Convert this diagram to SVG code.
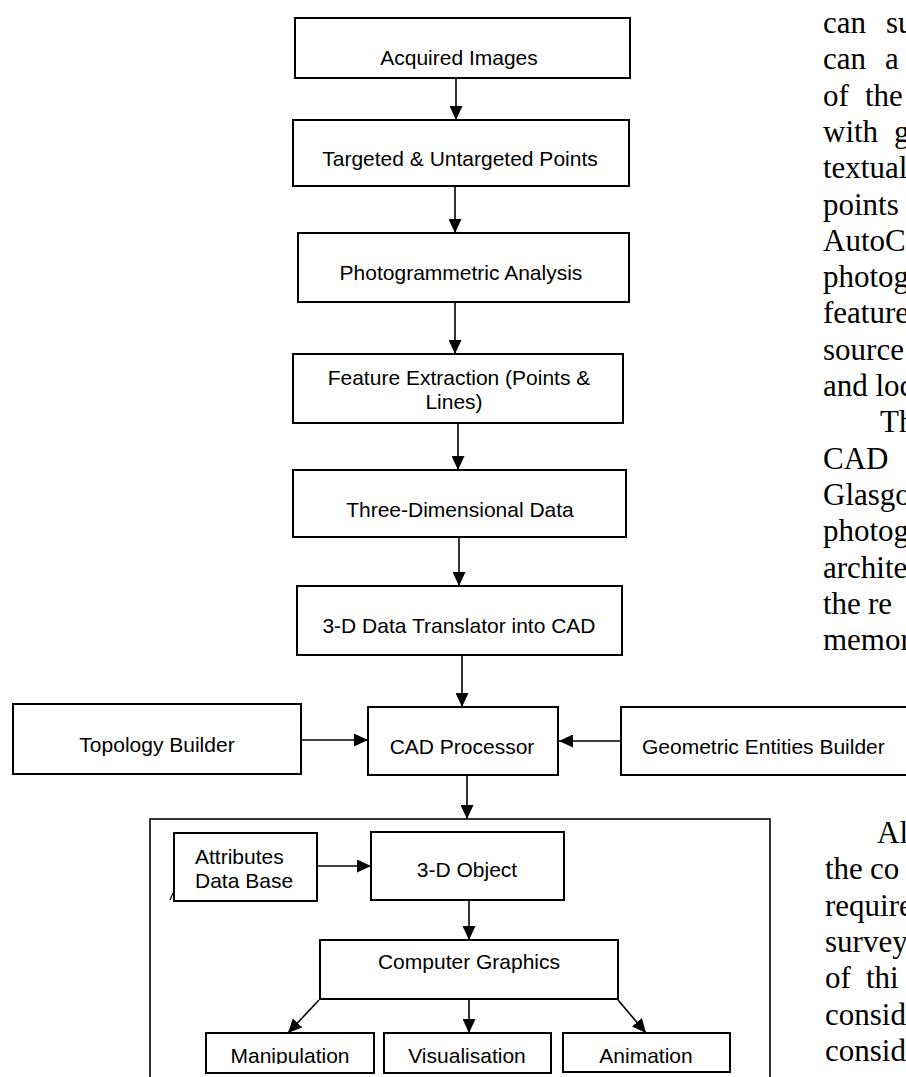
<svg xmlns="http://www.w3.org/2000/svg" width="906" height="1077" viewBox="0 0 906 1077">
<defs>
<marker id="ah" viewBox="0 0 14 13" refX="14" refY="6.5" markerWidth="14" markerHeight="13" markerUnits="userSpaceOnUse" orient="auto">
<path d="M0,0 L14,6.5 L0,13 z" fill="#000"/>
</marker>
<clipPath id="cutBottom"><rect x="0" y="0" width="906" height="1064"/></clipPath>
</defs>
<style>
.box{fill:#fff;stroke:#000;stroke-width:2}
.frame{fill:none;stroke:#000;stroke-width:1.6}
.lbl{font-family:"Liberation Sans",Arial,sans-serif;font-size:21px;fill:#000;text-anchor:middle}
.lbll{font-family:"Liberation Sans",Arial,sans-serif;font-size:21px;fill:#000}
.body{font-family:"Liberation Serif","Times New Roman",serif;font-size:31px;fill:#000}
.con{stroke:#000;stroke-width:1.6;fill:none;marker-end:url(#ah)}
</style>
<rect width="906" height="1077" fill="#fff"/>

<g id="body-text">
<text class="body" x="823" y="33">can<tspan x="886">su</tspan></text>
<text class="body" x="823" y="69.3">can<tspan x="885">a</tspan></text>
<text class="body" x="823" y="105.6">of<tspan x="865">the</tspan></text>
<text class="body" x="823" y="141.9">with<tspan x="894">g</tspan></text>
<text class="body" x="823" y="178.2">textual</text>
<text class="body" x="823" y="214.5">points</text>
<text class="body" x="823" y="250.8">AutoC</text>
<text class="body" x="823" y="287.1">photog</text>
<text class="body" x="823" y="323.4">feature</text>
<text class="body" x="823" y="359.7">source</text>
<text class="body" x="823" y="396">and loc</text>
<text class="body" x="880" y="432.3">Th</text>
<text class="body" x="823" y="468.6">CAD</text>
<text class="body" x="823" y="504.9">Glasgo</text>
<text class="body" x="823" y="541.2">photog</text>
<text class="body" x="823" y="577.5">archite</text>
<text class="body" x="823" y="613.8">the<tspan x="868">re</tspan></text>
<text class="body" x="823" y="650.1">memor</text>
<text class="body" x="877" y="843">Al</text>
<text class="body" x="825" y="879.3">the<tspan x="870">co</tspan></text>
<text class="body" x="825" y="915.6">require</text>
<text class="body" x="825" y="951.9">survey</text>
<text class="body" x="825" y="988.2">of<tspan x="866">thi</tspan></text>
<text class="body" x="825" y="1024.5">consid</text>
<text class="body" x="825" y="1060.8">consid</text>
</g>

<g id="outer-frame">
<rect class="frame" x="150" y="819" width="620" height="300"/>
</g>

<g id="connectors">
<line class="con" x1="456" y1="78" x2="456" y2="120"/>
<line class="con" x1="455" y1="186" x2="455" y2="233"/>
<line class="con" x1="455" y1="302" x2="455" y2="354"/>
<line class="con" x1="458" y1="423" x2="458" y2="470"/>
<line class="con" x1="459" y1="537" x2="459" y2="586"/>
<line class="con" x1="462" y1="655" x2="462" y2="707"/>
<line class="con" x1="302" y1="740" x2="368" y2="740"/>
<line class="con" x1="621" y1="741" x2="559" y2="741"/>
<line class="con" x1="467" y1="775" x2="467" y2="819"/>
<line class="con" x1="317" y1="866" x2="371" y2="866"/>
<line class="con" x1="469" y1="900" x2="469" y2="940"/>
<line class="con" x1="319" y1="1000" x2="288" y2="1033"/>
<line class="con" x1="469" y1="999" x2="469" y2="1033"/>
<line class="con" x1="618" y1="1000" x2="646" y2="1033"/>
</g>

<g id="n-acquired">
<rect class="box" x="295" y="18" width="335" height="60"/>
<text class="lbl" x="459" y="65">Acquired Images</text>
</g>
<g id="n-targeted">
<rect class="box" x="293" y="120" width="336" height="66"/>
<text class="lbl" x="460" y="166">Targeted &amp; Untargeted Points</text>
</g>
<g id="n-photogrammetric">
<rect class="box" x="298" y="233" width="331" height="69"/>
<text class="lbl" x="461" y="280">Photogrammetric Analysis</text>
</g>
<g id="n-feature">
<rect class="box" x="293" y="354" width="330" height="69"/>
<text class="lbl" x="459" y="385">Feature Extraction (Points &amp;</text>
<text class="lbl" x="454" y="409">Lines)</text>
</g>
<g id="n-threed">
<rect class="box" x="293" y="470" width="333" height="67"/>
<text class="lbl" x="460" y="517">Three-Dimensional Data</text>
</g>
<g id="n-translator">
<rect class="box" x="297" y="586" width="325" height="69"/>
<text class="lbl" x="459" y="633">3-D Data Translator into CAD</text>
</g>
<g id="n-topology">
<rect class="box" x="13" y="704" width="288" height="70"/>
<text class="lbl" x="157" y="752">Topology Builder</text>
</g>
<g id="n-cad">
<rect class="box" x="368" y="707" width="190" height="68"/>
<text class="lbl" x="462" y="754">CAD Processor</text>
</g>
<g id="n-geometric">
<rect class="box" x="621" y="707" width="290" height="68"/>
<text class="lbll" x="642" y="754">Geometric Entities Builder</text>
</g>
<g id="n-attributes">
<rect class="box" x="174" y="833" width="143" height="68"/>
<path d="M170,900 L173,893" stroke="#000" stroke-width="1.2"/>
<text class="lbll" x="195" y="864">Attributes</text>
<text class="lbll" x="195" y="888">Data Base</text>
</g>
<g id="n-object">
<rect class="box" x="371" y="832" width="193" height="68"/>
<text class="lbl" x="467" y="877">3-D Object</text>
</g>
<g id="n-graphics">
<rect class="box" x="320" y="940" width="298" height="59"/>
<text class="lbl" x="469" y="969">Computer Graphics</text>
</g>
<g id="n-manipulation">
<rect class="box" x="206" y="1033" width="168" height="40"/>
<text class="lbl" x="290" y="1063" clip-path="url(#cutBottom)">Manipulation</text>
</g>
<g id="n-visualisation">
<rect class="box" x="384" y="1033" width="167" height="40"/>
<text class="lbl" x="467" y="1063" clip-path="url(#cutBottom)">Visualisation</text>
</g>
<g id="n-animation">
<rect class="box" x="563" y="1033" width="167" height="39"/>
<text class="lbl" x="646" y="1063" clip-path="url(#cutBottom)">Animation</text>
</g>
</svg>
